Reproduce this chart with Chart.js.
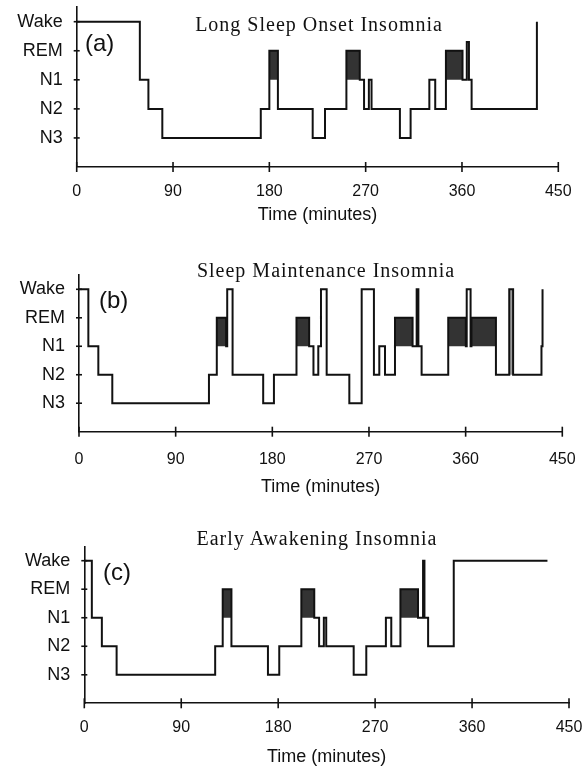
<!DOCTYPE html>
<html><head><meta charset="utf-8">
<script src="https://cdn.jsdelivr.net/npm/chart.js@4.4.1/dist/chart.umd.min.js"></script>
<style>
html,body{margin:0;padding:0;background:#fff;}
body{width:585px;height:768px;position:relative;overflow:hidden;}
canvas{position:absolute;left:0;}
.ttl{position:absolute;font-family:"Liberation Serif","Times New Roman",serif;font-size:20px;letter-spacing:1px;color:#111;transform:translate(-50%,-50%);white-space:nowrap;}
.lab{position:absolute;font-family:"Liberation Sans",Arial,sans-serif;font-size:24px;color:#111;transform:translateY(-50%);white-space:nowrap;}
</style></head><body>
<canvas id="ca"></canvas>
<canvas id="cb"></canvas>
<canvas id="cc"></canvas>
<div class="ttl" style="left:319px;top:24px;">Long Sleep Onset Insomnia</div>
<div class="ttl" style="left:326px;top:270px;">Sleep Maintenance Insomnia</div>
<div class="ttl" style="left:317px;top:538px;">Early Awakening Insomnia</div>
<div class="lab" style="left:85px;top:43px;">(a)</div>
<div class="lab" style="left:99px;top:300px;">(b)</div>
<div class="lab" style="left:103px;top:572px;">(c)</div>
<script>
// ---- data ----
const stageNames = ['', 'N3', 'N2', 'N1', 'REM', 'Wake'];
const stageLevels = [1, 2, 3, 4, 5];
const timeTicks = [0, 90, 180, 270, 360, 450];
const xLabel = 'Time (minutes)';

// Panel (a) Long Sleep Onset Insomnia: segment start times (min) and stage held from that time
const timesA  = [0, 59, 67, 80, 172, 180, 188, 220.5, 232, 252, 264.5, 268.5, 273, 275.5, 302, 312, 329.5, 335, 345, 360.5, 364.5, 366.5, 369, 430];
const stagesA = [5, 3,  2,  1,  2,   4,   2,   1,     2,   4,   3,     2,     3,   2,     1,   2,   3,     2,   4,   3,     4.3,   3,     2,   5];

// Panel (b) Sleep Maintenance Insomnia
const timesB  = [0, 8.7, 18, 31, 121, 128.3, 137, 138, 143, 171.5, 181.5, 202.5, 214.3, 218.3, 222.8, 225.3, 230.6, 251.7, 263.2, 274.6, 279.6, 284.9, 294.2, 310.6, 314.4, 316, 319, 343.8, 360.2, 361, 364.6, 365.4, 388.2, 400.6, 404.2, 430.6, 431.6];
const stagesB = [5, 3,   2,  1,  2,   4,     3,   5,   2,   1,     2,     4,     3,     2,     3,     5,     2,     1,     5,     2,     3,     2,     4,     3,     5,     3,   2,   4,     3,     5,   3,     4,     2,     5,     2,     3,     5];
const movementB = [[400.6, 404.2]];

// Panel (c) Early Awakening Insomnia
const timesC  = [0, 7, 16.3, 30, 121.5, 128.5, 136.6, 170.5, 181, 201.5, 213.5, 218, 222.4, 224.6, 250.1, 261.8, 280, 285, 293.5, 309.8, 314.5, 315.8, 319.2, 343, 430];
const stagesC = [5, 3, 2,    1,  2,     4,     2,     1,     2,   4,     3,     2,   3,     2,     1,     2,     3,   2,   4,     3,     5,     3,     2,     5,   5];

// ---- drawing ----
const yMax = 5.5;
const ink = '#111';
const tickMarks = {
  id: 'tickMarks',
  afterDraw(chart) {
    const {ctx, scales: {x, y}} = chart;
    ctx.save();
    ctx.strokeStyle = ink; ctx.lineWidth = 1.6;
    const yb = y.getPixelForValue(0);
    timeTicks.forEach(t => { const px = x.getPixelForValue(t); ctx.beginPath(); ctx.moveTo(px, yb - 5); ctx.lineTo(px, yb + 5); ctx.stroke(); });
    const xl = x.getPixelForValue(0);
    stageLevels.forEach(v => { const py = y.getPixelForValue(v); ctx.beginPath(); ctx.moveTo(xl - 3, py); ctx.lineTo(xl + 3, py); ctx.stroke(); });
    ctx.restore();
  }
};

function blocksFrom(times, stages, level) {
  const out = [];
  for (let i = 0; i < stages.length - 1; i++) {
    if (stages[i] === level) { out.push({x: times[i], y: level}, {x: times[i + 1], y: level}, {x: times[i + 1], y: null}); }
  }
  return out;
}
function spans(list, level) {
  const out = [];
  list.forEach(([a, b]) => { out.push({x: a, y: level}, {x: b, y: level}, {x: b, y: null}); });
  return out;
}

function makeChart(id, cfg, times, stages, movement) {
  const unit = (cfg.yAxis - cfg.yWake) / 5;
  const chartTop = cfg.yWake - (yMax - 5) * unit;
  const top = Math.floor(chartTop - 6);
  const H = Math.ceil(cfg.titleY + 14 - top);
  const cv = document.getElementById(id);
  cv.width = 585; cv.height = H; cv.style.top = top + 'px';
  const datasets = [
    { data: times.map((t, i) => ({x: t, y: stages[i]})), stepped: true, borderColor: ink, borderWidth: 2,
      borderJoinStyle: 'miter', pointRadius: 0, fill: false },
    { data: blocksFrom(times, stages, 4), borderWidth: 0, borderColor: 'rgba(0,0,0,0)', backgroundColor: '#333',
      pointRadius: 0, fill: {value: 3} }
  ];
  if (movement) {
    datasets.push({ data: spans(movement, 5), borderWidth: 0, borderColor: 'rgba(0,0,0,0)', backgroundColor: '#9a9a9a',
      pointRadius: 0, fill: {value: 2} });
  }
  return new Chart(cv, {
    type: 'line',
    data: { datasets },
    options: {
      responsive: false, animation: false, devicePixelRatio: 1,
      layout: { padding: { top: chartTop - top, right: 585 - cfg.x450, left: 0, bottom: 0 } },
      plugins: { legend: { display: false }, tooltip: { enabled: false } },
      scales: {
        x: {
          type: 'linear', min: 0, max: 450,
          afterBuildTicks: s => { s.ticks = timeTicks.map(v => ({value: v})); },
          afterFit: s => { s.height = top + H - cfg.yAxis; s.paddingLeft = 0; s.paddingRight = 0; },
          grid: { display: false, drawTicks: false },
          border: { color: ink, width: 1.6 },
          ticks: { padding: cfg.tickY - cfg.yAxis - 8, color: ink, maxRotation: 0, autoSkip: false,
                   font: { family: '"Liberation Sans", Arial, sans-serif', size: 16 } },
          title: { display: true, text: xLabel, color: ink, padding: { top: 0, bottom: top + H - cfg.titleY - 10.8 },
                   font: { family: '"Liberation Sans", Arial, sans-serif', size: 18 } }
        },
        y: {
          type: 'linear', min: 0, max: yMax,
          afterBuildTicks: s => { s.ticks = stageLevels.map(v => ({value: v})); },
          afterFit: s => { s.width = cfg.x0; s.paddingTop = 0; s.paddingBottom = 0; },
          grid: { display: false, drawTicks: false },
          border: { color: ink, width: 1.6 },
          ticks: { padding: 14, color: ink, callback: v => stageNames[v],
                   font: { family: '"Liberation Sans", Arial, sans-serif', size: 18 } }
        }
      }
    },
    plugins: [tickMarks]
  });
}

makeChart('ca', {x0: 76.7, x450: 558.3, yWake: 21.7, yAxis: 167, tickY: 190, titleY: 215}, timesA, stagesA);
makeChart('cb', {x0: 79, x450: 562.3, yWake: 289.3, yAxis: 431.7, tickY: 458, titleY: 487}, timesB, stagesB, movementB);
makeChart('cc', {x0: 84.3, x450: 569, yWake: 560.7, yAxis: 703.3, tickY: 726, titleY: 757}, timesC, stagesC);
</script>
</body></html>
